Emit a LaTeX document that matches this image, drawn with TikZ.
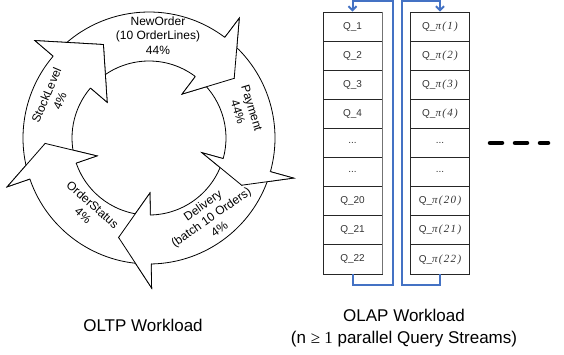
\documentclass[tikz,border=0pt]{standalone}
\usepackage{fontspec}
\setmainfont{Liberation Sans}
\newfontfamily\pifont[LetterSpace=12]{Liberation Serif}
\newfontfamily\serifont{Liberation Serif}
\usetikzlibrary{calc,arrows.meta}
\definecolor{flowblue}{RGB}{68,114,196}
\newcommand\ringseg[4]{%
  \draw[ringline,fill=white] ($(C)+({90-#1}:\Ro)$) arc[start angle={90-#1}, end angle={90-#2}, radius=\Ro]
   -- ($(C)+({90-#2}:\Bo)$) -- ($(C)+({90-#3}:\Rt)$) -- ($(C)+({90-#2}:\Bi)$) -- ($(C)+({90-#2}:\Ri)$)
   arc[start angle={90-#2}, end angle={90-#1}, radius=\Ri] -- ($(C)+({90-#4}:\Rt)$) -- cycle;}
\newcommand\ringhead[2]{%
  \fill[white] ($(C)+({90-#1}:\Bo)$) -- ($(C)+({90-#2}:\Rt)$) -- ($(C)+({90-#1}:\Bi)$) -- cycle;
  \draw[ringline] ($(C)+({90-#1}:\Ro)$) -- ($(C)+({90-#1}:\Bo)$) -- ($(C)+({90-#2}:\Rt)$) -- ($(C)+({90-#1}:\Bi)$) -- ($(C)+({90-#1}:\Ri)$);}
\begin{document}
\begin{tikzpicture}[x=1pt,y=1pt,
  ringline/.style={draw=black, line width=0.8pt, line join=miter},
  lbl/.style={align=center, inner sep=0pt, font=\fontsize{12}{14.5}\selectfont},
  cell/.style={draw=black!85, line width=0.8pt, minimum width=59pt, minimum height=29.11pt, inner sep=0pt, font=\fontsize{10}{12}\selectfont, text=black!80},
  flow/.style={draw=flowblue, line width=2pt, -{Straight Barb[length=4pt,width=8pt]}},
  big/.style={inner sep=0pt, font=\fontsize{17}{22}\selectfont}]
\useasboundingbox (0,0) rectangle (564,-355);
\coordinate (C) at (149,-138);
\def\Ro{126pt}\def\Ri{77pt}\def\Bo{150pt}\def\Bi{55pt}\def\Rt{104pt}
% ring segments
\ringseg{-49.5}{37}{55}{-26}
\ringseg{37}{105.5}{117}{55}
\ringseg{105.5}{179}{197}{117}
\ringseg{179}{251}{267}{197}
\ringseg{251}{310.5}{334}{267}
% heads on top
\ringhead{37}{55}
\ringhead{105.5}{117}
\ringhead{179}{197}
\ringhead{251}{267}
\ringhead{310.5}{334}
% labels
\node[lbl] (neworder) at (158,-35.5) {NewOrder\\(10 OrderLines)\\44\%};
\node[lbl, rotate=-73] (payment) at (245,-110) {Payment\\44\%};
\node[lbl, rotate=35] (delivery) at (211,-217) {Delivery\\(batch 10 Orders)\\4\%};
\node[lbl, rotate=-41.5] (orderstatus) at (88,-210) {OrderStatus\\4\%};
\node[lbl, rotate=67] (stocklevel) at (53,-98) {StockLevel\\4\%};
% left queue
\node[cell] (L1) at (352.5,-26.56) {Q\_1};
\node[cell] (L2) at (352.5,-55.67) {Q\_2};
\node[cell] (L3) at (352.5,-84.78) {Q\_3};
\node[cell] (L4) at (352.5,-113.89) {Q\_4};
\node[cell] (L5) at (352.5,-143.0) {...};
\node[cell] (L6) at (352.5,-172.1) {...};
\node[cell] (L7) at (352.5,-201.2) {Q\_20};
\node[cell] (L8) at (352.5,-230.3) {Q\_21};
\node[cell] (L9) at (352.5,-259.4) {Q\_22};
\draw[black!55, line width=1.6pt] (L1.north east) -- (L9.south east);
% right queue
\node[cell] (R1) at (440,-26.56) {Q\_{\pifont\itshape\fontsize{11}{12}\selectfont π(1)}};
\node[cell] (R2) at (440,-55.67) {Q\_{\pifont\itshape\fontsize{11}{12}\selectfont π(2)}};
\node[cell] (R3) at (440,-84.78) {Q\_{\pifont\itshape\fontsize{11}{12}\selectfont π(3)}};
\node[cell] (R4) at (440,-113.89) {Q\_{\pifont\itshape\fontsize{11}{12}\selectfont π(4)}};
\node[cell] (R5) at (440,-143.0) {...};
\node[cell] (R6) at (440,-172.1) {...};
\node[cell] (R7) at (440,-201.2) {Q\_{\pifont\itshape\fontsize{11}{12}\selectfont π(20)}};
\node[cell] (R8) at (440,-230.3) {Q\_{\pifont\itshape\fontsize{11}{12}\selectfont π(21)}};
\node[cell] (R9) at (440,-259.4) {Q\_{\pifont\itshape\fontsize{11}{12}\selectfont π(22)}};
% blue loops
\draw[flow] (L9.south) -- ++(0,-11) -| ($(L1.north)+(40.5,10.5)$) -| (L1.north);
\draw[flow] (R9.south) -- ++(0,-11) -| ($(R1.north)+(-38,10.5)$) -| (R1.north);
% more streams
\draw[line width=4.5pt, line cap=round, dash pattern=on 12pt off 13pt] (490,-143) -- (548,-143);
% captions
\node[big] (oltp) at (143,-325) {OLTP Workload};
\node[big, align=center] (olap) at (404,-328) {OLAP Workload\\(n {\serifont≥ 1} parallel Query Streams)};
\end{tikzpicture}
\end{document}
